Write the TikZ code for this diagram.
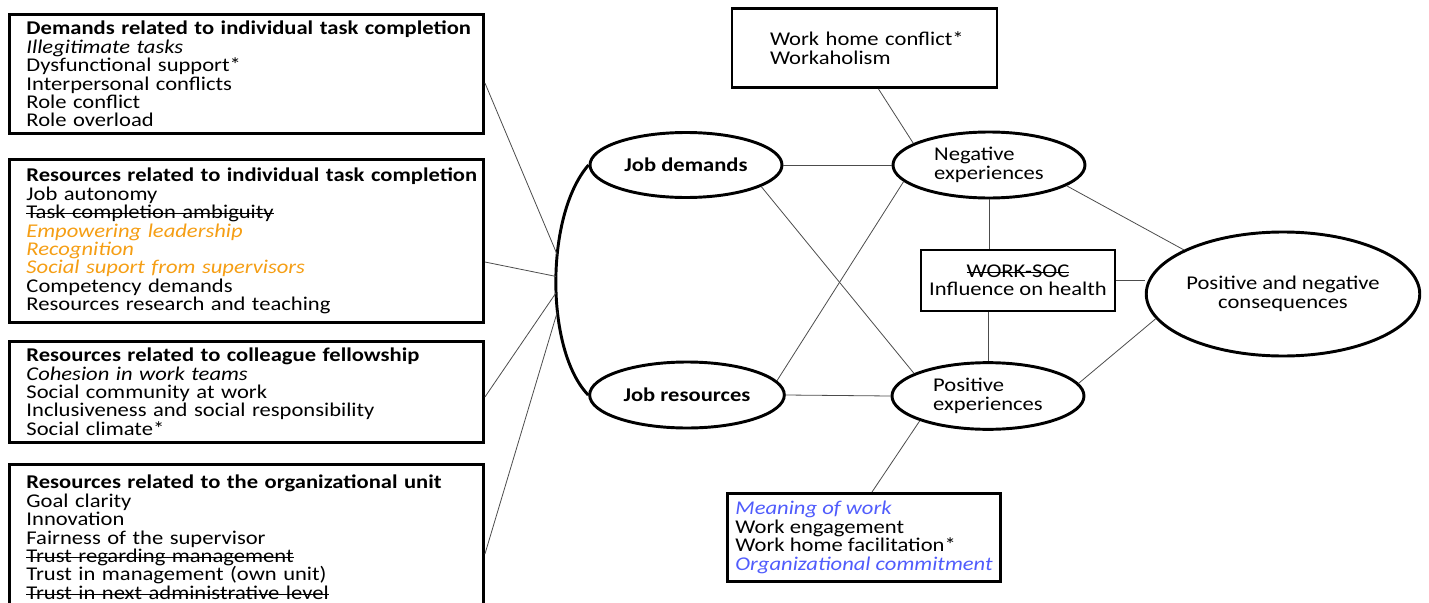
\documentclass[tikz,border=0pt]{standalone}
\usepackage{fontspec}
\setmainfont[FakeStretch=1.16]{Carlito}
\usetikzlibrary{shapes.geometric}
\definecolor{LeadOrange}{RGB}{245,158,20}
\definecolor{OutcomeBlue}{RGB}{80,92,252}
\newcommand{\boxfont}{\fontsize{14.6}{13.8}\selectfont}
\newsavebox{\strikebox}
\newcommand{\struck}[1]{\leavevmode\sbox{\strikebox}{#1}\rlap{\usebox{\strikebox}}\rule[0.5ex]{\wd\strikebox}{0.8pt}}

\begin{document}
\begin{tikzpicture}[x=0.75pt,y=0.75pt,yscale=-1,xscale=1,
		factorbox/.style={draw, line width=2.2pt, anchor=north west, align=left, text width=330pt, inner xsep=12.75pt, inner ysep=5pt, font=\boxfont, execute at begin node={\rightskip=-24pt plus 1fil\relax}},
		construct/.style={draw, ellipse, line width=2.2pt, inner sep=0pt, font=\boxfont},
		outcomebox/.style={draw, rectangle, line width=2.2pt, font=\boxfont},
		link/.style={draw=black!70, line width=0.6pt}]
						\useasboundingbox (0,0) rectangle (1429,603);

						% Text Node
						\node [factorbox] (demands) at (8,13) {\textbf{Demands related to individual task completion}\\
							\textit{Illegitimate tasks}\\
							Dysfunctional support*\\
							Interpersonal conflicts\\
							Role conflict\\
							Role overload};
						% Text Node
						\node [factorbox, inner ysep=6.5pt] (taskres) at (8,158) {\textbf{Resources related to individual task completion}\\
							Job autonomy\\
							\struck{Task completion ambiguity}\\
							\textcolor{LeadOrange}{\textit{Empowering leadership}}\\
							\textcolor{LeadOrange}{\textit{Recognition}}\\
							\textcolor{LeadOrange}{\textit{Social suport from supervisors}}\\
							Competency demands\\
							Resources research and teaching};
						% Text Node
						\node [factorbox] (fellow) at (8,340) {\textbf{Resources related to colleague fellowship}\\
							\textit{Cohesion in work teams}\\
							Social community at work\\
							Inclusiveness and social responsibility\\
							Social climate*};
						% Text Node
						\node [factorbox, inner ysep=8pt] (orgunit) at (8,463) {\textbf{Resources related to the organizational unit}\\
							Goal clarity\\
							Innovation\\
							Fairness of the supervisor\\
							\struck{Trust regarding management}\\
							Trust in management (own unit)\\
							\struck{Trust in next administrative level}};

						%Shape: Ellipse
						\node [construct, minimum width=144pt, minimum height=48.75pt] (jd) at (686,165) {\textbf{Job demands}};
						%Shape: Ellipse
						\node [construct, minimum width=146pt, minimum height=49.5pt] (jr) at (687,395) {\textbf{Job resources}};
						%Shape: Ellipse
						\node [construct, minimum width=144pt, minimum height=49.5pt, align=left] (neg) at (989,165) {Negative\\experiences};
						%Shape: Ellipse
						\node [construct, minimum width=144pt, minimum height=50pt, align=left] (pos) at (988,396) {Positive\\experiences};
						%Shape: Ellipse
						\node [construct, minimum width=204.75pt, minimum height=93pt, align=center] (pnc) at (1283,294) {Positive and negative\\consequences};

						% Text Node
						\node [outcomebox, text width=141.75pt, align=left, minimum height=59.25pt, inner xsep=28.5pt, execute at begin node={\rightskip=-24pt plus 1fil\relax}] (whc) at (864.5,48) {Work home conflict*\\Workaholism};
						% Text Node
						\node [outcomebox, align=center, minimum width=145.5pt, minimum height=45.75pt] (soc) at (1018,280.5) {\struck{WORK-SOC}\\Influence on health};
						% Text Node
						\node [outcomebox, anchor=north west, align=left, inner xsep=6pt, inner ysep=6pt] (mw) at (726,492) {\textcolor{OutcomeBlue}{\textit{Meaning of work}}\\
							Work engagement\\
							Work home facilitation*\\
							\textcolor{OutcomeBlue}{\textit{Organizational commitment}}};

						%Curve Lines
						\draw [line width=2.2pt] (jd.west) .. controls (545,215) and (545,350) .. (jr.west)
							coordinate[pos=0.4] (hub1) coordinate[pos=0.48] (hub2) coordinate[pos=0.54] (hub3) coordinate[pos=0.61] (hub4);

						%Straight Lines
						\draw [link] (demands.east |- 0,83) -- (hub1);
						\draw [link] (taskres.east |- 0,262) -- (hub2);
						\draw [link] (fellow.east |- 0,397) -- (hub3);
						\draw [link] (orgunit.east |- 0,554) -- (hub4);
						%Straight Lines
						\draw [link] (jd.east) -- (neg.west);
						\draw [link] (jr.east) -- (pos.west);
						\draw [link] (jd.-16) -- (pos.163);
						\draw [link] (jr.9) -- (neg.191);
						\draw [link] ([xshift=10.5pt]whc.south) -- (neg.164);
						\draw [link] (neg.south) -- (neg.south |- soc.north);
						\draw [link] (pos.north) -- (pos.north |- soc.south);
						\draw [link] (soc.east) -- (soc.east -| pnc.west);
						\draw [link] (neg.-15) -- (pnc.156);
						\draw [link] (pos.8) -- (pnc.191);
						\draw [link] (pos.200) -- (mw.north -| 872,0);

					\end{tikzpicture}
\end{document}
